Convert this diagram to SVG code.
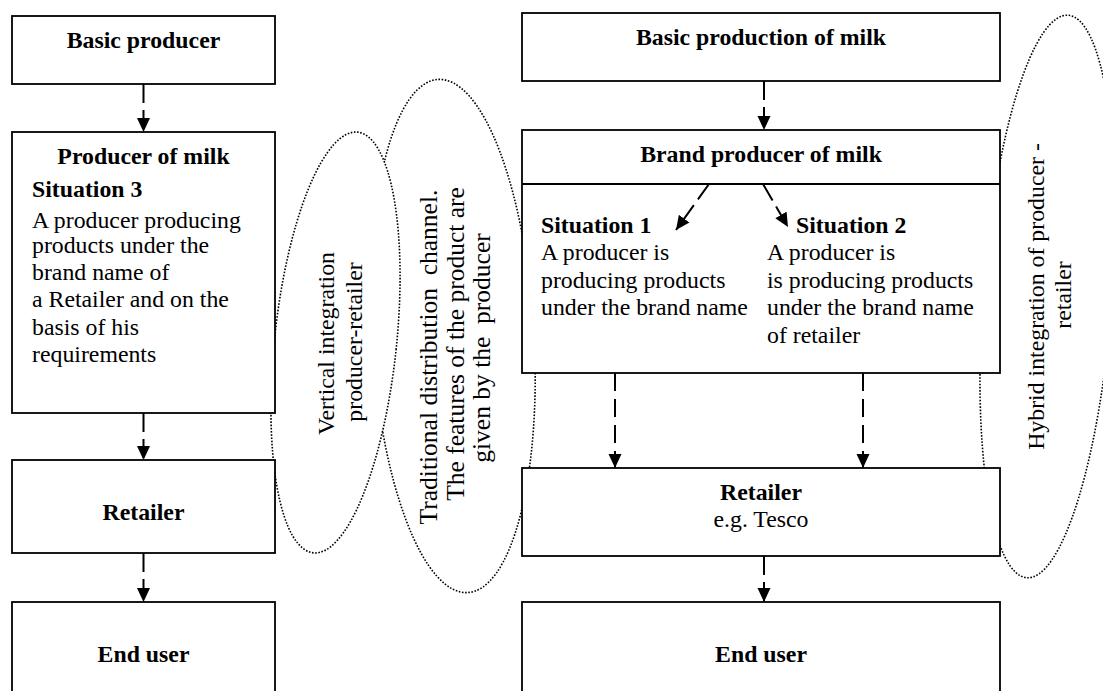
<svg xmlns="http://www.w3.org/2000/svg" width="1103" height="691" viewBox="0 0 1103 691">
<style>
  .box{fill:#fff;stroke:#000;stroke-width:1.8}
  .cloud{fill:#fff;stroke:#000;stroke-width:1.6;stroke-dasharray:1.6 1.6}
  .t{font-family:"Liberation Serif","Times New Roman",serif;font-size:23.8px;fill:#000}
  .b{font-weight:bold}
  .m{text-anchor:middle}
  .big{font-size:25.5px}
  .conn{fill:none;stroke:#000;stroke-width:2;stroke-dasharray:19 7;marker-end:url(#arr)}
  .long{stroke-dasharray:18 8}
</style>
<defs>
  <marker id="arr" markerUnits="userSpaceOnUse" viewBox="0 0 14 14" refX="14" refY="7" markerWidth="14" markerHeight="14" orient="auto">
    <path d="M0,0.5 L14,7 L0,13.5 z" fill="#000"/>
  </marker>
</defs>
<rect width="1103" height="691" fill="#fff"/>

<g id="traditional-channel">
  <ellipse class="cloud" cx="453" cy="336" rx="81" ry="257" transform="rotate(-3.3 453 336)"/>
  <text class="t m big" xml:space="preserve" transform="translate(437,357) rotate(-90)">Traditional distribution  channel.</text>
  <text class="t m big" transform="translate(463.5,344) rotate(-90)">The features of the product are</text>
  <text class="t m big" xml:space="preserve" transform="translate(490,348) rotate(-90)">given by the  producer</text>
</g>
<g id="vertical-integration">
  <ellipse class="cloud" cx="335.5" cy="342.5" rx="61" ry="211.5" transform="rotate(6 335.5 342.5)"/>
  <text class="t m" transform="translate(333.5,343.5) rotate(-90)">Vertical integration</text>
  <text class="t m" transform="translate(361.5,342) rotate(-90)">producer-retailer</text>
</g>
<g id="hybrid-integration">
  <ellipse class="cloud" cx="1047.5" cy="296.5" rx="64.5" ry="282" transform="rotate(4.2 1047.5 296.5)"/>
  <text class="t m" transform="translate(1044,296.5) rotate(-90)">Hybrid integration of producer -</text>
  <text class="t m" transform="translate(1071,295) rotate(-90)">retailer</text>
</g>

<g id="basic-producer">
  <rect class="box" x="12" y="16" width="263" height="68"/>
  <text class="t b m" x="143.5" y="48">Basic producer</text>
</g>
<g id="producer-of-milk">
  <rect class="box" x="12" y="132" width="263" height="281"/>
  <text class="t b m" x="143.5" y="164">Producer of milk</text>
  <text class="t b" x="32" y="197">Situation 3</text>
  <text class="t" x="32" y="228">A producer producing</text>
  <text class="t" x="32" y="253">products under the</text>
  <text class="t" x="32" y="280">brand name of</text>
  <text class="t" x="32" y="307">a Retailer and on the</text>
  <text class="t" x="32" y="335">basis of his</text>
  <text class="t" x="32" y="362">requirements</text>
</g>
<g id="retailer-left">
  <rect class="box" x="12" y="460" width="263" height="93"/>
  <text class="t b m" x="143.5" y="520">Retailer</text>
</g>
<g id="end-user-left">
  <rect class="box" x="12" y="602" width="263" height="100"/>
  <text class="t b m" x="143.5" y="662">End user</text>
</g>

<g id="basic-production">
  <rect class="box" x="522" y="13" width="478" height="68"/>
  <text class="t b m" x="761" y="45">Basic production of milk</text>
</g>
<g id="brand-producer">
  <rect class="box" x="522" y="130" width="478" height="243"/>
  <line x1="522" y1="184" x2="1000" y2="184" stroke="#000" stroke-width="1.8"/>
  <text class="t b m" x="761" y="162">Brand producer of milk</text>
  <text class="t b" x="541" y="233">Situation 1</text>
  <text class="t" x="541" y="260">A producer is</text>
  <text class="t" x="541" y="288">producing products</text>
  <text class="t" x="541" y="315">under the brand name</text>
  <text class="t b" x="796" y="233">Situation 2</text>
  <text class="t" x="767" y="260">A producer is</text>
  <text class="t" x="767" y="288">is producing products</text>
  <text class="t" x="767" y="315">under the brand name</text>
  <text class="t" x="767" y="343">of retailer</text>
</g>
<g id="retailer-right">
  <rect class="box" x="522" y="468" width="478" height="88"/>
  <text class="t b m" x="761" y="500">Retailer</text>
  <text class="t m" x="761" y="527">e.g. Tesco</text>
</g>
<g id="end-user-right">
  <rect class="box" x="522" y="602" width="478" height="100"/>
  <text class="t b m" x="761" y="662">End user</text>
</g>

<g id="connectors">
  <line class="conn" x1="143.5" y1="84" x2="143.5" y2="132"/>
  <line class="conn" x1="143.5" y1="413" x2="143.5" y2="460"/>
  <line class="conn" x1="143.5" y1="553" x2="143.5" y2="602"/>
  <line class="conn" x1="764" y1="81" x2="764" y2="130"/>
  <line class="conn" x1="709" y1="184" x2="676" y2="230"/>
  <line class="conn" x1="763" y1="184" x2="788" y2="227"/>
  <line class="conn long" x1="615" y1="373" x2="615" y2="468"/>
  <line class="conn long" x1="863" y1="373" x2="863" y2="468"/>
  <line class="conn" x1="764" y1="556" x2="764" y2="602"/>
</g>
</svg>
